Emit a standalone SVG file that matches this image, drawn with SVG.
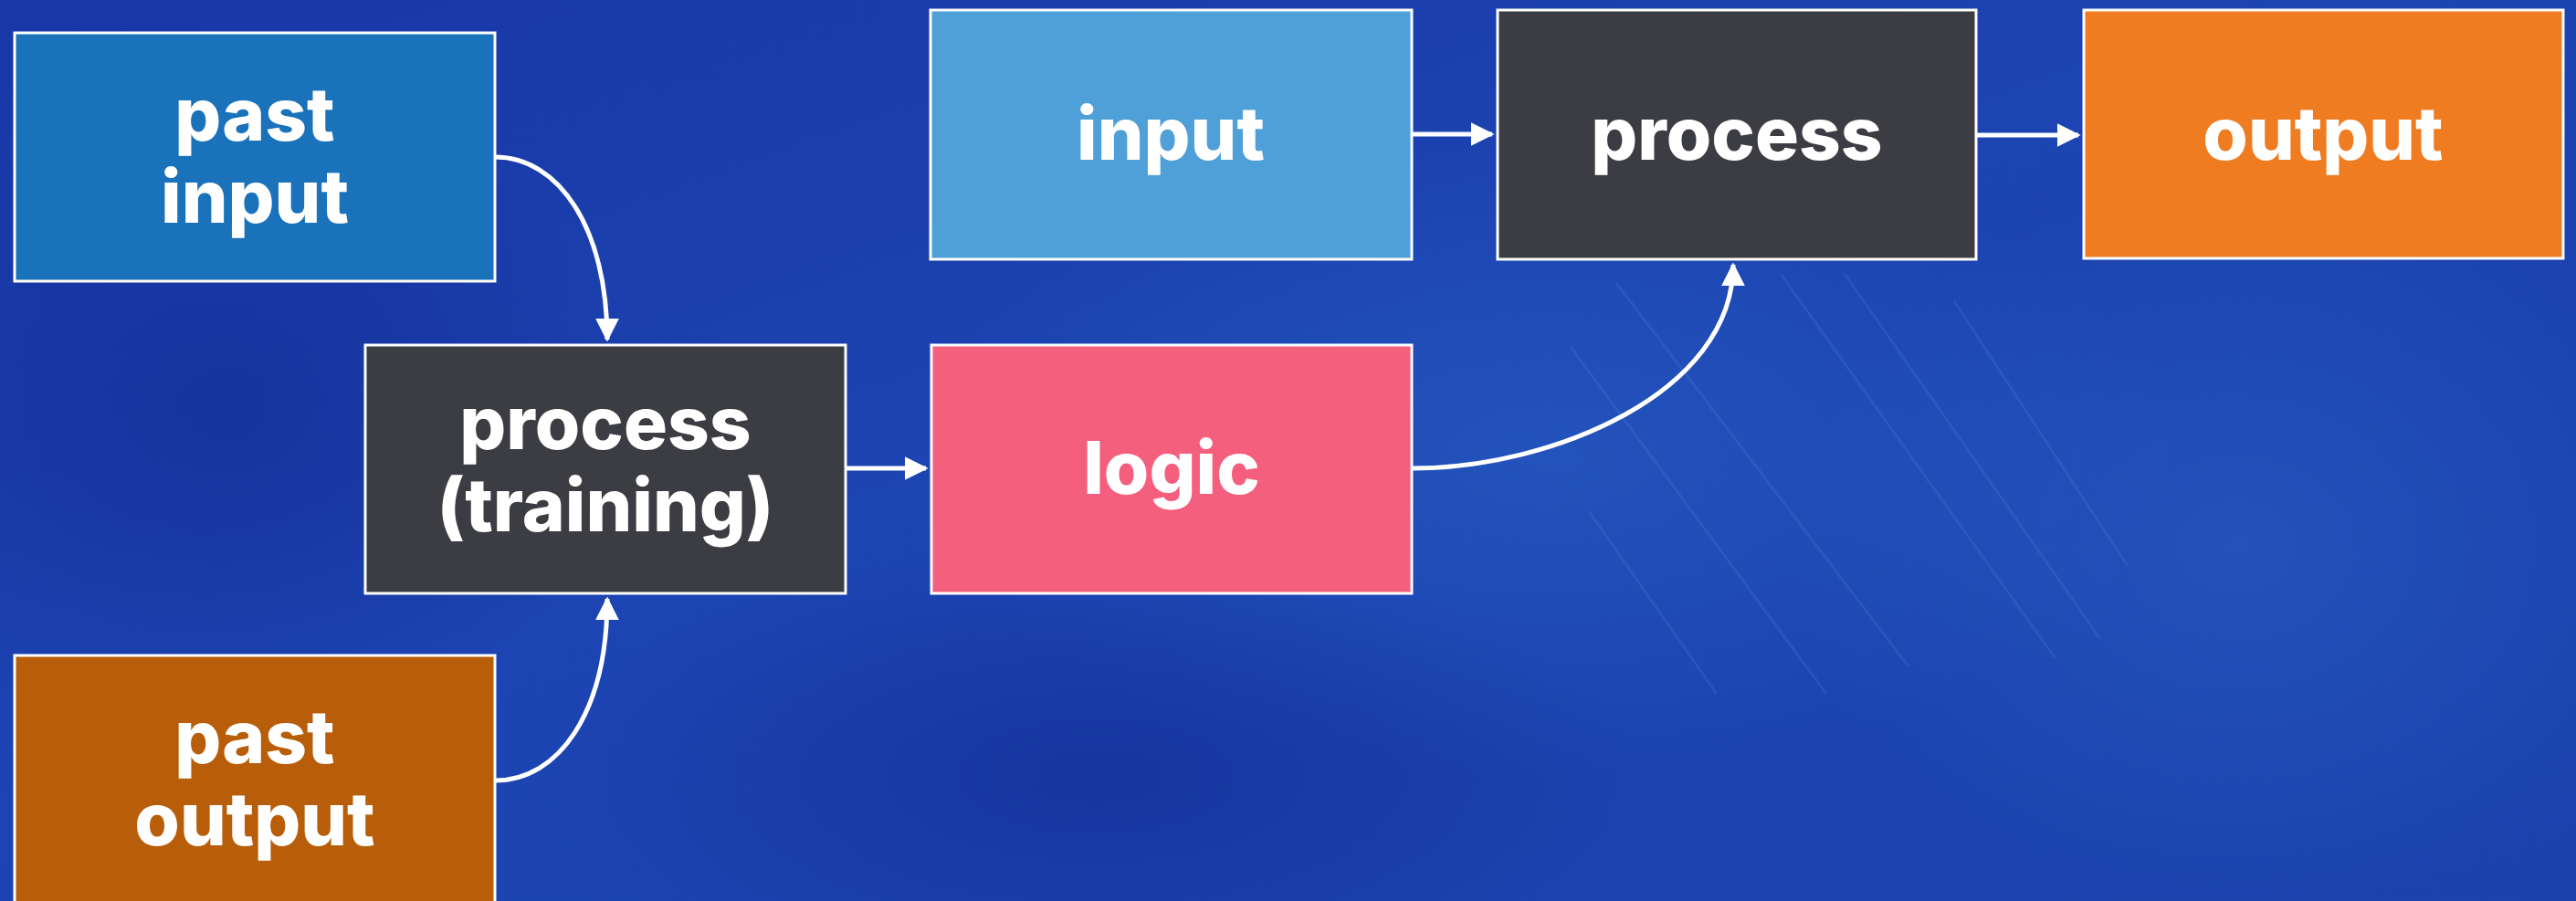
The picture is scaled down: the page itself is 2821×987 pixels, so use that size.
<svg xmlns="http://www.w3.org/2000/svg" width="2821" height="987" viewBox="0 0 2821 987">
<defs>
<linearGradient id="bg" x1="0" y1="0" x2="1" y2="1">
<stop offset="0" stop-color="#1937a6"/>
<stop offset="0.45" stop-color="#1c44b2"/>
<stop offset="1" stop-color="#1b42ad"/>
</linearGradient>
<radialGradient id="hl1" cx="0.5" cy="0.5" r="0.5">
<stop offset="0" stop-color="#2a62c6" stop-opacity="0.5"/>
<stop offset="1" stop-color="#2a62c6" stop-opacity="0"/>
</radialGradient>
<radialGradient id="dk1" cx="0.5" cy="0.5" r="0.5">
<stop offset="0" stop-color="#122c92" stop-opacity="0.6"/>
<stop offset="1" stop-color="#122c92" stop-opacity="0"/>
</radialGradient>
<marker id="arr" viewBox="0 0 10 10" refX="9" refY="5" markerWidth="5.2" markerHeight="5.2" orient="auto" markerUnits="strokeWidth">
<path d="M0,0 L10,5 L0,10 Z" fill="#ffffff"/>
</marker>
</defs>
<style>
.box{stroke:#ffffff;stroke-width:3}
.lbl{font-family:Inter,"Open Sans","Liberation Sans",sans-serif;font-weight:800;font-size:80px;fill:#ffffff;text-anchor:middle}
.con{fill:none;stroke:#ffffff;stroke-width:5}
</style>
<rect width="2821" height="987" fill="url(#bg)"/>
<ellipse cx="1700" cy="500" rx="700" ry="350" fill="url(#hl1)"/>
<ellipse cx="2450" cy="600" rx="500" ry="400" fill="url(#hl1)"/>
<ellipse cx="250" cy="450" rx="450" ry="350" fill="url(#dk1)"/>
<ellipse cx="1200" cy="850" rx="600" ry="250" fill="url(#dk1)"/>
<g stroke="#5b8ee0" stroke-opacity="0.18" stroke-width="3" fill="none">
<path d="M1720,380 L2000,760"/>
<path d="M1770,310 L2090,730"/>
<path d="M1950,300 L2250,720"/>
<path d="M2020,300 L2300,700"/>
<path d="M2140,330 L2330,620"/>
<path d="M1740,560 L1880,760"/>
</g>
<g id="connectors">
<path class="con" d="M542,172 C612,172 665,250 665,372" marker-end="url(#arr)"/>
<path class="con" d="M542,855 C612,855 665,780 665,656" marker-end="url(#arr)"/>
<path class="con" d="M926,513 L1014,513" marker-end="url(#arr)"/>
<path class="con" d="M1546,147 L1634,147" marker-end="url(#arr)"/>
<path class="con" d="M2164,148 L2276,148" marker-end="url(#arr)"/>
<path class="con" d="M1547,513 C1700,513 1898,430 1898,290" marker-end="url(#arr)"/>
</g>
<g id="past-input">
<rect class="box" x="16" y="36" width="526" height="272" fill="#1a72bb"/>
<text class="lbl" x="279" y="154">past</text>
<text class="lbl" x="279" y="244">input</text>
</g>
<g id="process-training">
<rect class="box" x="400" y="378" width="526" height="272" fill="#3c3d42"/>
<text class="lbl" x="663" y="492">process</text>
<text class="lbl" x="663" y="582">(training)</text>
</g>
<g id="past-output">
<rect class="box" x="16" y="718" width="526" height="272" fill="#b85e0a"/>
<text class="lbl" x="279" y="836">past</text>
<text class="lbl" x="279" y="926">output</text>
</g>
<g id="logic">
<rect class="box" x="1020" y="378" width="526" height="272" fill="#f55f7e"/>
<text class="lbl" x="1283" y="541">logic</text>
</g>
<g id="input">
<rect class="box" x="1019" y="11" width="527" height="273" fill="#4fa0d8"/>
<text class="lbl" x="1282" y="175">input</text>
</g>
<g id="process">
<rect class="box" x="1640" y="11" width="524" height="273" fill="#3c3d42"/>
<text class="lbl" x="1902" y="175">process</text>
</g>
<g id="output">
<rect class="box" x="2282" y="11" width="525" height="272" fill="#f07c22"/>
<text class="lbl" x="2544" y="175">output</text>
</g>
</svg>
